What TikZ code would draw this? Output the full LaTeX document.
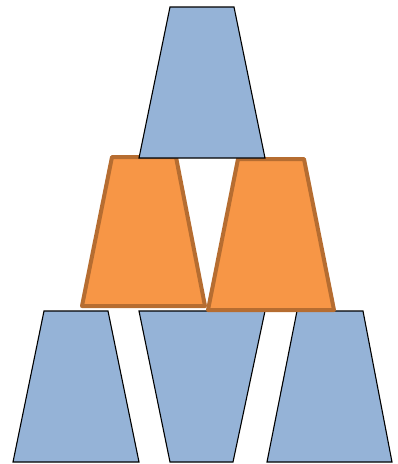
\documentclass[tikz,border=0pt]{standalone}
\usepackage{xcolor}
\definecolor{cCup}{HTML}{95B3D7}
\definecolor{cHot}{HTML}{F79646}
\definecolor{cHotEdge}{HTML}{B66D31}
\usepackage{tikz}
\tikzset{
  cup-blue/.style={fill=cCup,draw=black,line width=1.1pt,line join=miter},
  cup-orange/.style={fill=cHot,draw=cHotEdge,line width=4pt,line join=round},
}

\begin{document}
\begin{tikzpicture}[x=1pt,y=-1pt]
  \useasboundingbox (0,0) rectangle (398,464);
  % bottom row
  \draw[cup-blue] (44,311) -- (108,311) -- (139,462) -- (13,462) -- cycle;
  \draw[cup-blue] (139,311) -- (265,311) -- (233,462) -- (170,462) -- cycle;
  \draw[cup-blue] (297,311) -- (363,311) -- (392,462) -- (267,462) -- cycle;
  % middle row
  \draw[cup-orange] (112,157) -- (176,157) -- (205,306) -- (82,306) -- cycle;
  \draw[cup-orange] (238,159) -- (304,159) -- (334,310) -- (208,310) -- cycle;
  % top
  \draw[cup-blue] (170,7) -- (234,7) -- (265,158) -- (139,158) -- cycle;
\end{tikzpicture}
\end{document}
